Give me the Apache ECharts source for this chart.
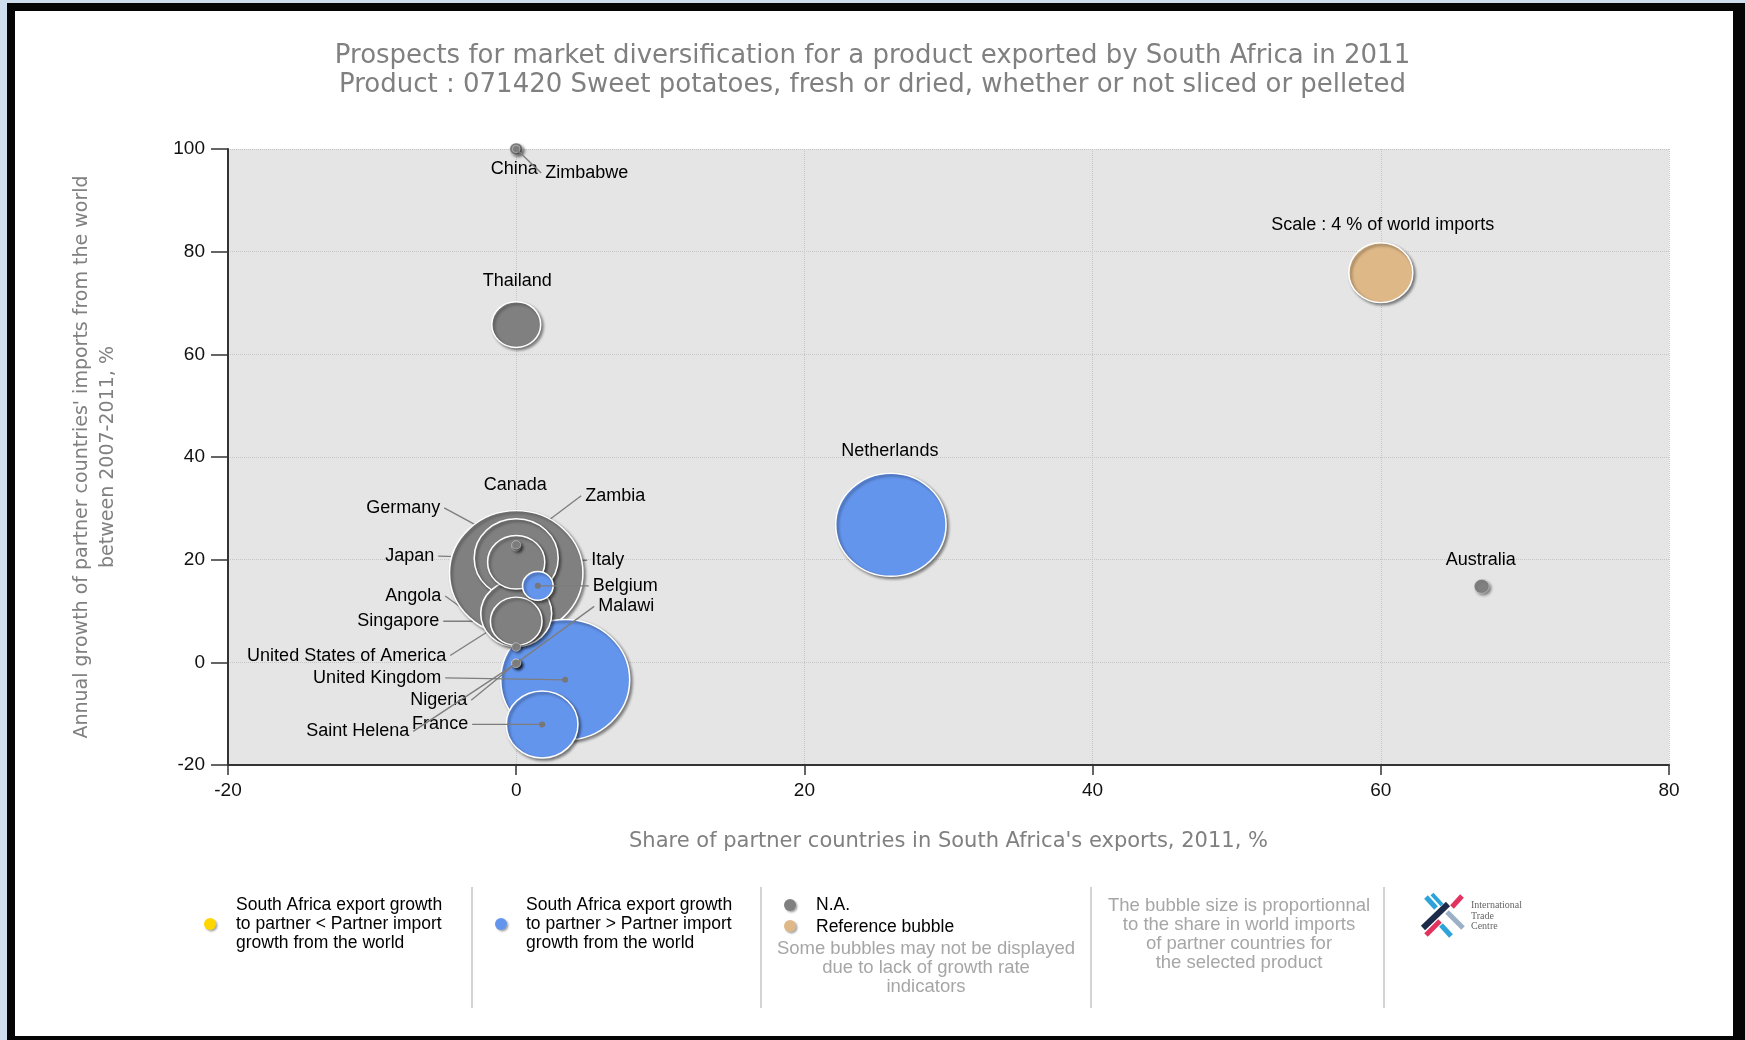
<!DOCTYPE html>
<html>
<head>
<meta charset="utf-8">
<script src="https://cdn.jsdelivr.net/npm/echarts@6/dist/echarts.min.js"></script>
<style>
html,body{margin:0;padding:0;width:1745px;height:1040px;overflow:hidden;background:#cfdeec;}
#frame{position:absolute;left:7px;top:3px;width:1738px;height:1037px;background:#050505;}
#paper{position:absolute;left:15px;top:11px;width:1718px;height:1025px;background:#ffffff;}
#chart{position:absolute;left:0;top:0;width:1745px;height:1040px;}
</style>
</head>
<body>
<div id="frame"></div><div id="paper"></div><div id="chart"></div>
<script>
// ---------------- DATA ----------------
const countries = ['China','Zimbabwe','Thailand','Canada','Germany','Zambia','Japan','Italy','Belgium','Angola','Singapore','United States of America','United Kingdom','Malawi','Nigeria','Saint Helena','France','Netherlands','Australia'];
// x: share of partner countries in South Africa's exports, 2011, %
const shareInSouthAfricaExports = [0, 0, 0, 0, 0, 0, 0, 0, 1.5, 0, 0, 0, 3.4, 0, 0, 0, 1.8, 26.0, 67.0];
// y: annual growth of partner countries' imports from the world 2007-2011, %
const importGrowth = [100, 100, 65.8, 17.4, 22.5, 22.9, 20.3, 19.5, 14.9, 3.0, 8.0, 9.5, -3.4, -0.2, -0.2, -0.2, -12.1, 26.8, 14.8];
// bubble: share in world imports, %
const shareInWorldImports = [0.165, 0.06, 2.34, 17.4, 0.08, 0.08, 6.9, 3.2, 0.92, 0.08, 2.61, 4.92, 16.25, 0.08, 0.08, 0.08, 5.02, 11.9, 0.22];
// colour class: 'na' = N.A., 'above' = SA export growth > partner import growth, 'below' = <
const growthComparison = ['na','na','na','na','na','na','na','na','above','na','na','na','above','na','na','na','above','above','na'];
// reference bubble
const referenceName = 'Scale : 4 % of world imports';
const referenceX = 60;
const referenceY = 75.9;
const referenceShare = 4;
// axis ticks
const xAxisTicks = [-20, 0, 20, 40, 60, 80];
const yAxisTicks = [-20, 0, 20, 40, 60, 80, 100];

// ---------------- STYLE ----------------
const COLORS = { na: '#808080', above: '#6495ed', below: '#ffd700', ref: '#deb887' };
const REF_DIAMETER = 64;   // px width of the 4 % reference bubble
const ASPECT = 1.07;       // bubbles are slightly wider than tall
const LABEL_FONT = '"Liberation Sans", Arial, sans-serif';
const TITLE_FONT = '"DejaVu Sans", Verdana, sans-serif';
// label anchor offset from bubble centre (px) and alignment
const LABEL_POS = {
  'China': [-2, 20, 'center'],
  'Zimbabwe': [29, 24, 'left'],
  'Thailand': [1, -44, 'center'],
  'Canada': [-1, -88, 'center'],
  'Germany': [-76, -39, 'right'],
  'Zambia': [69, -49, 'left'],
  'Japan': [-82, -2, 'right'],
  'Italy': [75, -2, 'left'],
  'Belgium': [55, 0, 'left'],
  'Angola': [-75, -51, 'right'],
  'Singapore': [-77, 0, 'right'],
  'United States of America': [-70, 42, 'right'],
  'United Kingdom': [-124, -2, 'right'],
  'Malawi': [82, -57, 'left'],
  'Nigeria': [-49, 37, 'right'],
  'Saint Helena': [-107, 68, 'right'],
  'France': [-74, 0, 'right'],
  'Netherlands': [-1, -74, 'center'],
  'Australia': [-1, -26, 'center']
};
LABEL_POS[referenceName] = [2, -48, 'center'];
const LEADER = {
  'Zimbabwe': 'above', 'Germany': 'below', 'Zambia': 'below', 'Japan': 'below', 'Italy': 'below',
  'Belgium': 'above', 'Angola': 'below', 'Singapore': 'below', 'United States of America': 'below',
  'United Kingdom': 'above', 'Malawi': 'above', 'Nigeria': 'above', 'Saint Helena': 'above', 'France': 'above'
};
const CENTER_DOT = { 'Belgium': 1, 'United Kingdom': 1, 'France': 1 };

// ---------------- BUILD ----------------
const points = countries.map((n, i) => ({
  name: n,
  value: [shareInSouthAfricaExports[i], importGrowth[i], shareInWorldImports[i]],
  cls: growthComparison[i]
}));
points.push({ name: referenceName, value: [referenceX, referenceY, referenceShare], cls: 'ref' });
points.sort((a, b) => b.value[2] - a.value[2]);   // big bubbles first, small on top

function bubbleWidth(v) {
  return REF_DIAMETER * Math.sqrt(v[2] / referenceShare);
}
function bubbleSize(v) {
  const w = bubbleWidth(v);
  return [w, w / ASPECT];
}

function leaderLayer(layer, z) {
  return {
    type: 'custom',
    coordinateSystem: 'cartesian2d',
    z: z,
    silent: true,
    clip: false,
    data: points.map(p => [p.value[0], p.value[1]]),
    encode: { x: 0, y: 1 },
    renderItem: function (params, api) {
      const p = points[params.dataIndex];
      const c = api.coord([api.value(0), api.value(1)]);
      const pos = LABEL_POS[p.name];
      const lx = c[0] + pos[0], ly = c[1] + pos[1];
      const children = [];
      if (LEADER[p.name] === layer) {
        const ex = pos[2] === 'right' ? lx + 4 : (pos[2] === 'left' ? lx - 4 : lx);
        children.push({ type: 'line', shape: { x1: c[0], y1: c[1], x2: ex, y2: ly },
          style: { stroke: '#7d7d7d', lineWidth: 1.3 } });
        if (CENTER_DOT[p.name]) {
          children.push({ type: 'circle', shape: { cx: c[0], cy: c[1], r: 3 }, style: { fill: '#777777' } });
        }
      }
      if (layer === 'above') {
        children.push({ type: 'text', x: lx, y: ly,
          style: { text: p.name, fill: '#000000', fontSize: 18, fontFamily: LABEL_FONT,
                   align: pos[2], verticalAlign: 'middle', textAlign: pos[2], textVerticalAlign: 'middle' } });
      }
      return { type: 'group', children: children };
    }
  };
}

const axisTextColor = '#111111';
const chart = echarts.init(document.getElementById('chart'), null, { renderer: 'canvas' });

function legendText(x, y, text, color, align, size) {
  return { type: 'text', x: x, y: y, silent: true,
    style: { text: text, fill: color, fontSize: size || 17.5, fontFamily: LABEL_FONT, lineHeight: 19,
             align: align, verticalAlign: 'middle', textAlign: align, textVerticalAlign: 'middle' } };
}
function legendDot(cx, cy, color) {
  return { type: 'circle', shape: { cx: cx, cy: cy, r: 6 }, silent: true,
    style: { fill: color, shadowBlur: 2, shadowOffsetX: 1.5, shadowOffsetY: 1.5, shadowColor: 'rgba(0,0,0,0.35)' } };
}
function sep(x) {
  return { type: 'line', shape: { x1: x, y1: 887, x2: x, y2: 1008 }, silent: true, style: { stroke: '#a8a8a8', lineWidth: 1 } };
}
function poly(pts, color) {
  return { type: 'polygon', shape: { points: pts }, silent: true, style: { fill: color } };
}
function bar(x1, y1, x2, y2, w, color) {
  const dx = x2 - x1, dy = y2 - y1, L = Math.sqrt(dx * dx + dy * dy);
  const nx = -dy / L * w / 2, ny = dx / L * w / 2;
  return poly([[x1 + nx, y1 + ny], [x2 + nx, y2 + ny], [x2 - nx, y2 - ny], [x1 - nx, y1 - ny]], color);
}

const option = {
  animation: false,
  backgroundColor: 'transparent',
  title: {
    text: 'Prospects for market diversification for a product exported by South Africa in 2011\nProduct : 071420 Sweet potatoes, fresh or dried, whether or not sliced or pelleted',
    left: 'center',
    top: 42,
    padding: 0,
    textStyle: { color: '#808080', fontSize: 26, fontWeight: 'normal', fontFamily: TITLE_FONT, lineHeight: 29 }
  },
  grid: {
    left: 228, top: 149, right: 76, bottom: 275,
    show: true, backgroundColor: '#e5e5e5', borderWidth: 0,
    containLabel: false, outerBoundsMode: 'none'
  },
  xAxis: {
    type: 'value',
    min: xAxisTicks[0], max: xAxisTicks[xAxisTicks.length - 1], interval: xAxisTicks[1] - xAxisTicks[0],
    position: 'bottom',
    name: "Share of partner countries in South Africa's exports, 2011, %",
    nameLocation: 'middle', nameGap: 66,
    nameTextStyle: { color: '#808080', fontSize: 21, fontFamily: TITLE_FONT },
    axisLine: { show: true, onZero: false, lineStyle: { color: '#333333', width: 2 } },
    axisTick: { show: true, length: 10, lineStyle: { color: '#333333', width: 1.5 } },
    axisLabel: { color: axisTextColor, fontSize: 19, fontFamily: LABEL_FONT, margin: 16 },
    splitLine: { show: true, lineStyle: { color: '#c6c6c6', type: 'dotted', width: 1 } }
  },
  yAxis: {
    type: 'value',
    min: yAxisTicks[0], max: yAxisTicks[yAxisTicks.length - 1], interval: yAxisTicks[1] - yAxisTicks[0],
    position: 'left',
    name: "Annual growth of partner countries' imports from the world\nbetween 2007-2011, %",
    nameLocation: 'middle', nameGap: 107, nameRotate: 90,
    nameTextStyle: { color: '#808080', fontSize: 19, fontFamily: TITLE_FONT, lineHeight: 26, align: 'center' },
    axisLine: { show: true, onZero: false, lineStyle: { color: '#333333', width: 2 } },
    axisTick: { show: true, length: 17, lineStyle: { color: '#333333', width: 1.5 } },
    axisLabel: { color: axisTextColor, fontSize: 19, fontFamily: LABEL_FONT, margin: 23 },
    splitLine: { show: true, lineStyle: { color: '#c6c6c6', type: 'dotted', width: 1 } }
  },
  series: [
    leaderLayer('below', 1),
    {
      type: 'scatter',
      z: 2,
      clip: false,
      silent: true,
      symbol: 'circle',
      symbolSize: bubbleSize,
      data: points.map(p => {
        const w = bubbleWidth(p.value);
        return {
          name: p.name, value: p.value,
          itemStyle: {
            color: COLORS[p.cls],
            borderWidth: w < 20 ? 0.6 : 1.5,
            borderColor: w < 20 ? 'rgba(255,255,255,0.6)' : '#ffffff'
          }
        };
      }),
      itemStyle: {
        shadowColor: 'rgba(0,0,0,0.45)', shadowBlur: 3, shadowOffsetX: 2, shadowOffsetY: 2, opacity: 1
      },
      label: { show: false },
      emphasis: { disabled: true }
    },
    leaderLayer('above', 3)
  ],
  graphic: [
    sep(472), sep(761), sep(1091), sep(1384),
    legendDot(210, 924, COLORS.below),
    legendText(236, 924, 'South Africa export growth\nto partner < Partner import\ngrowth from the world', '#000000', 'left'),
    legendDot(501, 924, COLORS.above),
    legendText(526, 924, 'South Africa export growth\nto partner > Partner import\ngrowth from the world', '#000000', 'left'),
    legendDot(790, 905, COLORS.na),
    legendText(816, 905, 'N.A.', '#000000', 'left'),
    legendDot(790, 926, COLORS.ref),
    legendText(816, 927, 'Reference bubble', '#000000', 'left'),
    legendText(926, 968, 'Some bubbles may not be displayed\ndue to lack of growth rate\nindicators', '#a6a6a6', 'center', 18.5),
    legendText(1239, 934, 'The bubble size is proportionnal\nto the share in world imports\nof partner countries for\nthe selected product', '#a6a6a6', 'center', 18.5),
    // ITC logo
    bar(1426, 897, 1436, 908, 5, '#2ea3da'),
    bar(1432, 894, 1442, 905, 4, '#2ea3da'),
    bar(1462, 896, 1452, 907, 5, '#e2335f'),
    bar(1423, 928, 1448, 904, 6, '#1c2b4a'),
    bar(1447, 912, 1463, 928, 5, '#9bb0c6'),
    bar(1426, 935, 1440, 921, 5, '#e2335f'),
    bar(1441, 925, 1451, 936, 5, '#2ea3da'),
    { type: 'text', x: 1471, y: 905, silent: true, style: { text: 'International', fill: '#666666', fontSize: 10, fontFamily: '"Liberation Serif", serif', align: 'left', verticalAlign: 'middle', textAlign: 'left', textVerticalAlign: 'middle' } },
    { type: 'text', x: 1471, y: 916, silent: true, style: { text: 'Trade', fill: '#666666', fontSize: 10, fontFamily: '"Liberation Serif", serif', align: 'left', verticalAlign: 'middle', textAlign: 'left', textVerticalAlign: 'middle' } },
    { type: 'text', x: 1471, y: 926, silent: true, style: { text: 'Centre', fill: '#666666', fontSize: 10, fontFamily: '"Liberation Serif", serif', align: 'left', verticalAlign: 'middle', textAlign: 'left', textVerticalAlign: 'middle' } }
  ]
};
chart.setOption(option);
</script>
</body>
</html>
